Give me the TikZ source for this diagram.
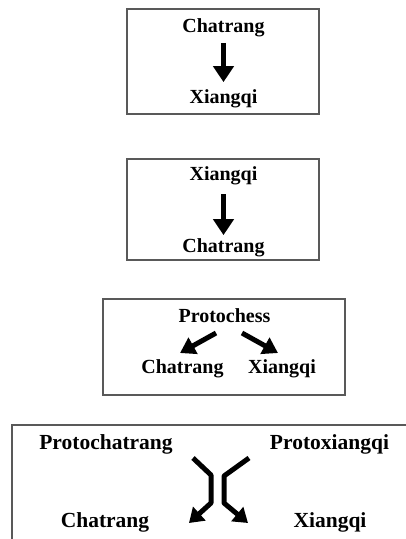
\documentclass[tikz,border=0pt]{standalone}
\usepackage{fontspec}
\setmainfont{Liberation Serif}
\usetikzlibrary{arrows.meta}
\begin{document}
\begin{tikzpicture}[x=1pt,y=-1pt,
  frame/.style={draw=black!65,line width=1.6pt},
  lbl/.style={inner sep=0pt,font=\fontsize{20}{22}\selectfont\bfseries},
  lblb/.style={inner sep=0pt,font=\fontsize{21.5}{24}\selectfont\bfseries},
  bigarrow/.style={line width=5pt,-{Triangle[width=20pt,length=16pt]}},
  diagarrow/.style={line width=5pt,-{Triangle[width=18pt,length=15pt]}},
  bentarrow/.style={line width=5pt,line join=round,-{Triangle[width=18pt,length=14pt]}}]
\useasboundingbox (0,0) rectangle (405,539);
% box 1
\draw[frame] (127,9) rectangle (319,114);
\node[lbl] (c1) at (223.5,27.5) {Chatrang};
\node[lbl] (x1) at (223.5,98.5) {Xiangqi};
\draw[bigarrow,shorten <=6pt,shorten >=7pt] (c1.south) -- (x1.north);
% box 2
\draw[frame] (127,159) rectangle (319,260);
\node[lbl] (x2) at (223.5,176) {Xiangqi};
\node[lbl] (c2) at (223.5,247.5) {Chatrang};
\draw[bigarrow,shorten <=9pt,shorten >=3pt] (x2.south) -- (c2.north);
% box 3
\draw[frame] (103,299) rectangle (345,395);
\node[lbl] (p3) at (224.5,315.5) {Protochess};
\node[lbl] (c3) at (182.5,368.5) {Chatrang};
\node[lbl] (x3) at (282,368.5) {Xiangqi};
\coordinate (l3s) at (216,333);
\coordinate (l3e) at (180,353);
\coordinate (r3s) at (242,333);
\coordinate (r3e) at (278,353);
\draw[diagarrow] (l3s) -- (l3e);
\draw[diagarrow] (r3s) -- (r3e);
% box 4
\draw[frame] (406,425) -- (12,425) -- (12,540);
\node[lblb] (pc) at (106,444) {Protochatrang};
\node[lblb] (px) at (329.5,444) {Protoxiangqi};
\node[lblb] (c4) at (105,522) {Chatrang};
\node[lblb] (x4) at (330,522) {Xiangqi};
\coordinate (ls) at (193,458);
\coordinate (le) at (189,523);
\coordinate (rs) at (249,458);
\coordinate (re) at (248,523);
\draw[bentarrow] (ls) -- (211,475) -- (211,503) -- (le);
\draw[bentarrow] (rs) -- (224,476) -- (224,503) -- (re);
\end{tikzpicture}
\end{document}
